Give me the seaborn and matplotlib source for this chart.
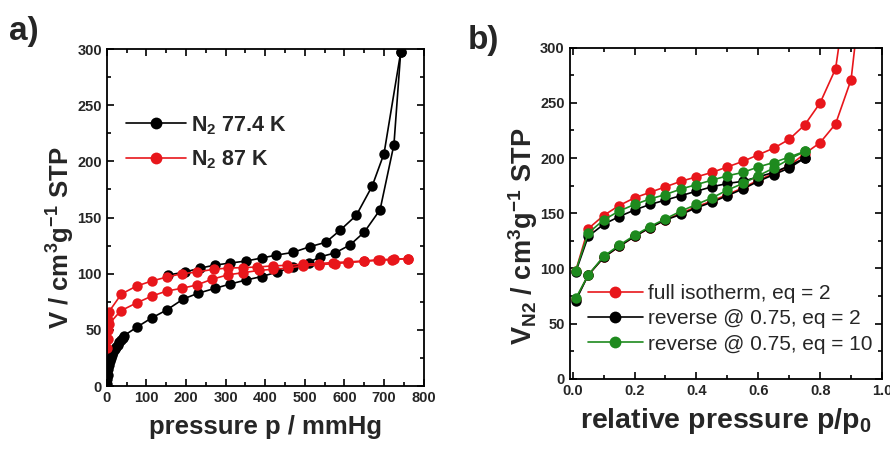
import numpy as np
import pandas as pd
import matplotlib
matplotlib.use("Agg")
import matplotlib.pyplot as plt
import seaborn as sns
from matplotlib.lines import Line2D
from matplotlib.ticker import MultipleLocator

sns.set_theme(style="ticks")
plt.rcParams["font.family"] = ["Liberation Sans", "DejaVu Sans"]
plt.rcParams["mathtext.fontset"] = "custom"
plt.rcParams["mathtext.rm"] = "Liberation Sans"
plt.rcParams["mathtext.bf"] = "Liberation Sans:bold"
plt.rcParams["mathtext.default"] = "bf"

RED = "#e8161b"
GREEN = "#1e8a1e"

# panel a: N2 77.4 K (pressure in mmHg)
n2_77_ads_p = [0, 1, 2, 4, 6, 8, 10, 13, 16, 20, 24, 28, 32, 36, 40, 44,
               76, 113, 151, 193, 230, 273, 311, 351, 391, 430, 470, 510,
               538, 576, 614, 650, 690, 725, 742]
n2_77_ads_v = [2, 6, 10, 15, 19, 22, 25, 28, 30, 33, 35, 37, 39, 41, 43, 45,
               52.5, 60.6, 67.7, 77.5, 82.6, 87, 90.8, 94.4, 97.5, 101.5, 106, 110,
               115, 118.5, 125.6, 137, 157, 215, 297]
n2_77_des_p = [742, 700, 670, 630, 590, 553, 512, 470, 428, 391, 351, 311,
               273, 235, 197, 154]
n2_77_des_v = [297, 207, 178, 152, 139, 128, 124, 119, 116.6, 114, 111.3, 109.5,
               107.7, 105, 101.5, 98.8]

# panel a: N2 87 K
n2_87_ads_p = [1, 2, 3, 5, 35, 75, 113, 151, 189, 227, 265, 305, 345, 385,
               420, 457, 495, 535, 575, 610, 650, 685, 720, 760]
n2_87_ads_v = [34, 42, 50, 55, 67, 74, 80, 84.6, 87, 90, 95, 99, 101, 103,
               104, 105, 107, 108, 109, 110, 111, 112, 112.5, 113.5]
n2_87_des_p = [760, 725, 690, 650, 610, 570, 535, 495, 455, 420, 380, 345,
               305, 270, 227, 189, 151, 113, 75, 37, 5, 2]
n2_87_des_v = [113.5, 113, 112.5, 111.5, 110.5, 110, 109, 108.5, 107.5, 107, 106, 105.5,
               105, 104, 101.5, 100, 97, 93.5, 89, 82, 66, 59]

# panel b: relative pressure
full_ads_x = [0.01, 0.05, 0.1, 0.15, 0.2, 0.25, 0.3, 0.35, 0.4, 0.45, 0.5,
              0.55, 0.6, 0.65, 0.7, 0.75, 0.8, 0.85, 0.9, 0.92]
full_ads_v = [72, 94, 110, 120, 129, 137, 144, 150, 156, 161, 167,
              173, 180, 186, 193, 204, 214, 231, 271, 320]
full_des_x = [0.87, 0.85, 0.8, 0.75, 0.7, 0.65, 0.6, 0.55, 0.5, 0.45, 0.4,
              0.35, 0.3, 0.25, 0.2, 0.15, 0.1, 0.05, 0.01]
full_des_v = [320, 281, 250, 230, 217, 209, 203, 197, 192, 187, 183,
              179, 174, 169, 164, 157, 148, 136, 98]

rev_x = [0.01, 0.05, 0.1, 0.15, 0.2, 0.25, 0.3, 0.35, 0.4, 0.45, 0.5,
         0.55, 0.6, 0.65, 0.7, 0.75]
rev2_ads_v = [71, 94, 110, 120, 129, 137, 144, 149, 155, 160, 166,
              172, 179, 185, 191, 200]
rev2_des_v = [97, 129, 140, 147, 153, 158, 162, 166, 170, 174, 177,
              179, 183, 187, 193, 200]
rev10_ads_v = [73, 94, 111, 121, 130, 138, 145, 152, 158, 164, 171,
               177, 184, 191, 199, 206]
rev10_des_v = [98, 132, 144, 152, 158, 163, 167, 172, 176, 180, 184,
               187, 192, 196, 201, 206]

fig = plt.figure(figsize=(8.9, 4.5), dpi=100)
ax1 = fig.add_axes([0.120, 0.142, 0.356, 0.749])
ax2 = fig.add_axes([0.640, 0.158, 0.351, 0.736])


def branch(ax, x, y, color):
    df = pd.DataFrame({"x": x, "y": y})
    sns.lineplot(data=df, x="x", y="y", sort=False, estimator=None, ax=ax,
                 color=color, marker="o", markersize=7.5, markeredgewidth=0,
                 linewidth=1.2)


branch(ax1, n2_77_ads_p, n2_77_ads_v, "black")
branch(ax1, n2_77_des_p, n2_77_des_v, "black")
branch(ax1, n2_87_ads_p, n2_87_ads_v, RED)
branch(ax1, n2_87_des_p, n2_87_des_v, RED)

branch(ax2, full_ads_x, full_ads_v, RED)
branch(ax2, full_des_x, full_des_v, RED)
branch(ax2, rev_x, rev2_ads_v, "black")
branch(ax2, rev_x[::-1], rev2_des_v[::-1], "black")
branch(ax2, rev_x, rev10_ads_v, GREEN)
branch(ax2, rev_x[::-1], rev10_des_v[::-1], GREEN)

for ax in (ax1, ax2):
    ax.set_ylim(0, 300)
    ax.yaxis.set_major_locator(MultipleLocator(50))
    ax.yaxis.set_minor_locator(MultipleLocator(25))
    ax.grid(False)

ax1.set_xlim(0, 800)
ax1.xaxis.set_major_locator(MultipleLocator(100))
ax1.xaxis.set_minor_locator(MultipleLocator(50))
ax2.set_xlim(-0.01, 1.0)
ax2.xaxis.set_major_locator(MultipleLocator(0.2))
ax2.xaxis.set_minor_locator(MultipleLocator(0.1))
ax2.xaxis.set_major_formatter(plt.FuncFormatter(lambda v, pos: f"{v:.1f}"))

for ax in (ax1, ax2):
    ax.tick_params(which="both", direction="in", top=True, right=True,
                   width=1.2, labelsize=10.5, color="black")
    ax.tick_params(which="major", length=5)
    ax.tick_params(which="minor", length=3)
    for s in ax.spines.values():
        s.set_linewidth(1.3)
        s.set_color("black")
    for lab in ax.get_xticklabels() + ax.get_yticklabels():
        lab.set_fontweight("bold")

ax1.set_xlabel("pressure p / mmHg", fontsize=18.5, fontweight="bold", labelpad=7)
ax1.set_ylabel(r"V / cm$^{3}$g$^{-1}$ STP", fontsize=18.5, fontweight="bold", labelpad=0)
ax1.yaxis.label.set_y(0.44)
ax2.set_xlabel(r"relative pressure p/p$_{0}$", fontsize=20.5, fontweight="bold", labelpad=6)
ax2.set_ylabel(r"V$_{N2}$ / cm$^{3}$g$^{-1}$ STP", fontsize=19.5, fontweight="bold", labelpad=0)
ax2.yaxis.label.set_y(0.43)

fig.text(0.010, 0.912, "a)", fontsize=24, fontweight="bold")
fig.text(0.525, 0.892, "b)", fontsize=24, fontweight="bold")


def handle(color):
    return Line2D([], [], color=color, marker="o", markersize=8.5,
                  markeredgewidth=0, linewidth=1.2)


leg1 = ax1.legend([handle("black"), handle(RED)],
                  [r"N$_2$ 77.4 K", r"N$_2$ 87 K"],
                  loc="upper left", bbox_to_anchor=(0.0, 0.865), frameon=False,
                  handlelength=2.8, handletextpad=0.2, labelspacing=0.55,
                  prop={"size": 15.5, "weight": "bold"})

leg2 = ax2.legend([handle(RED), handle("black"), handle(GREEN)],
                  ["full isotherm, eq = 2", "reverse @ 0.75, eq = 2",
                   "reverse @ 0.75, eq = 10"],
                  loc="lower left", bbox_to_anchor=(0.0, 0.02), frameon=False,
                  handlelength=2.6, handletextpad=0.25, labelspacing=0.3,
                  prop={"size": 15})

fig.savefig("out.png", dpi=100)
